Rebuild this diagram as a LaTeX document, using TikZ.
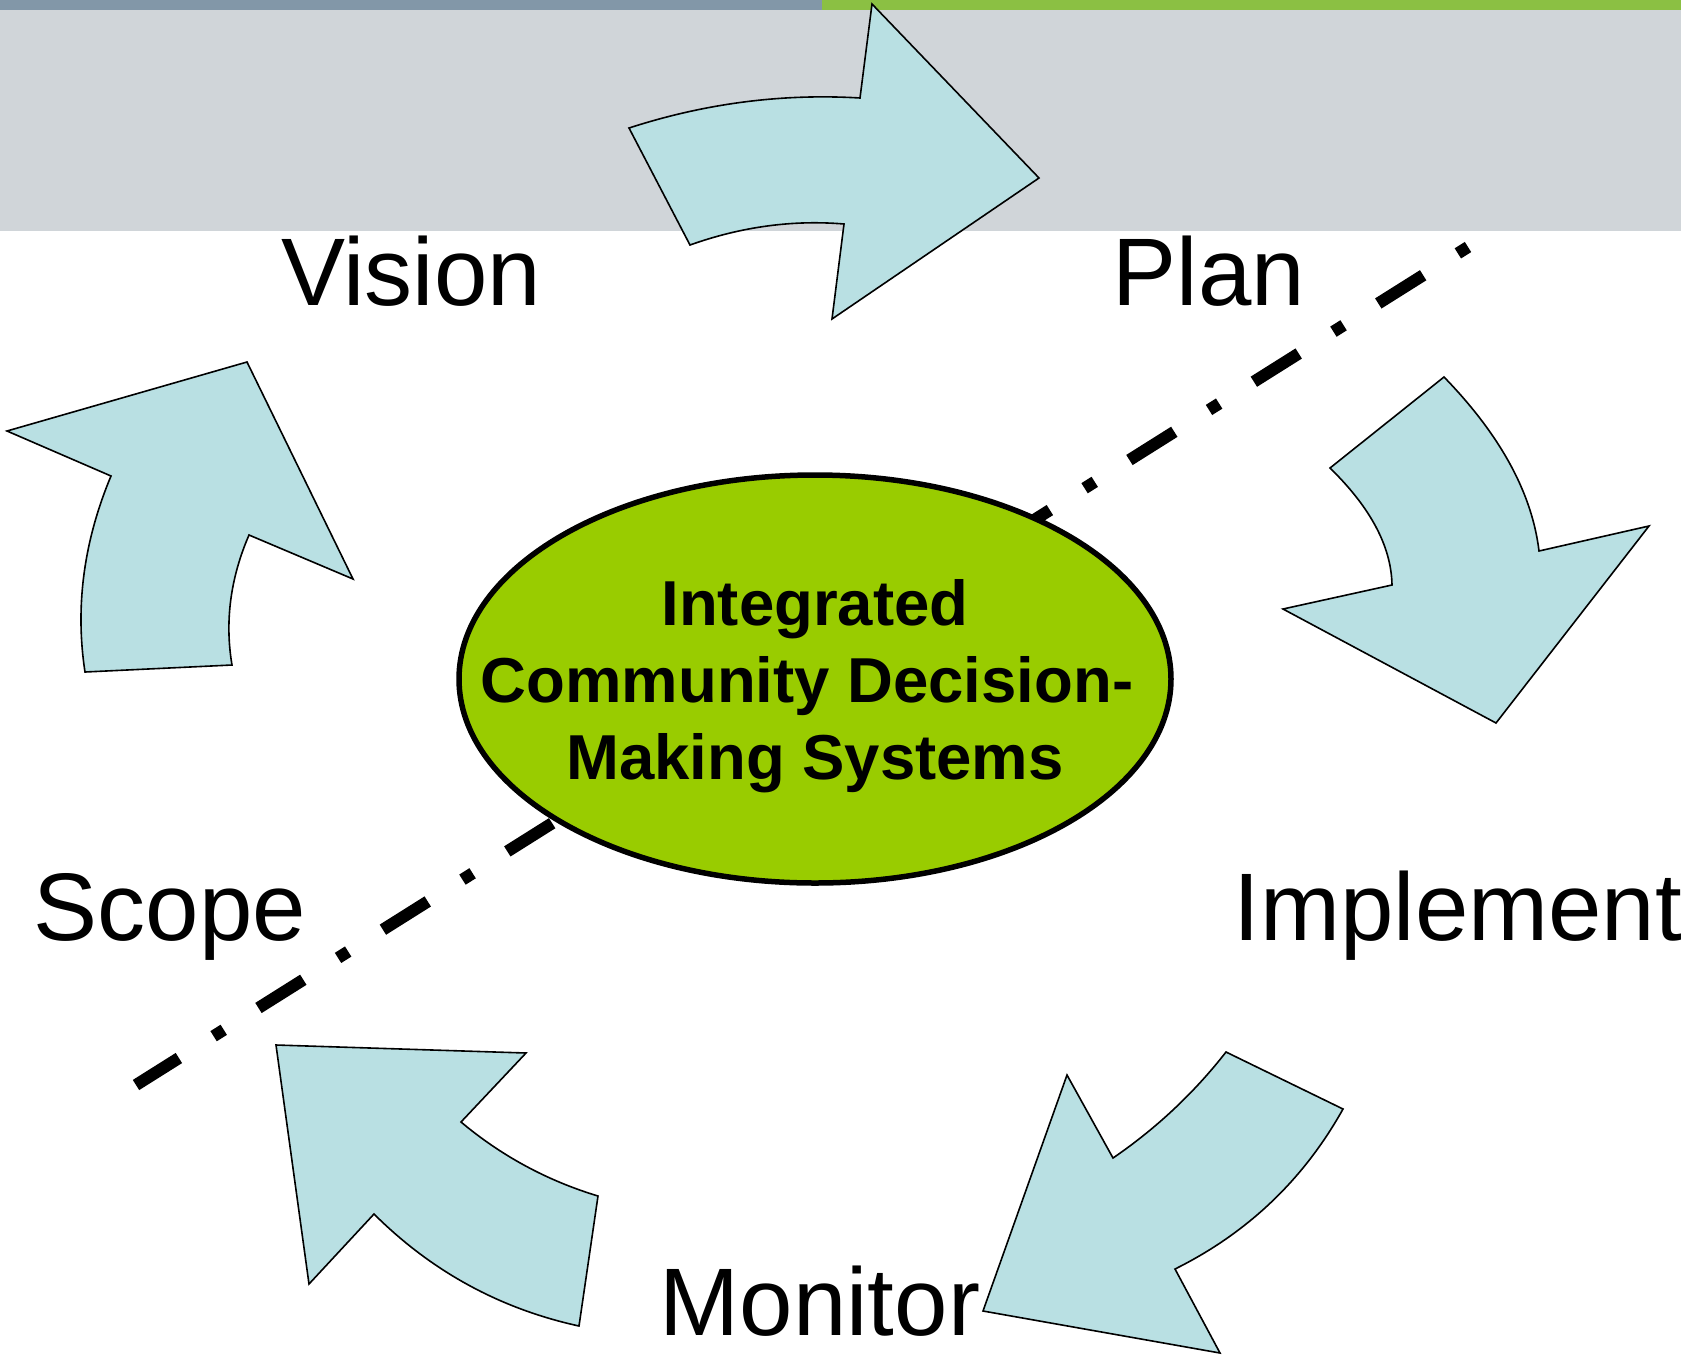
\documentclass[tikz,border=0pt]{standalone}
\usepackage{fontspec}
\setmainfont{Liberation Sans}
\usetikzlibrary{shapes.geometric}
\definecolor{barblue}{HTML}{8297A8}
\definecolor{bargreen}{HTML}{8BC043}
\definecolor{bandgray}{HTML}{D0D5D9}
\definecolor{arrowfill}{HTML}{B9E0E3}
\definecolor{hubgreen}{HTML}{99CC00}
\tikzset{
  cyclearrow/.style={fill=arrowfill, draw=black, line width=1.6pt, line join=miter},
  steplabel/.style={inner sep=0pt, anchor=base, font=\fontsize{96}{110}\selectfont},
  hubtext/.style={inner sep=0pt, anchor=base, font=\fontsize{63.5}{77}\selectfont\bfseries},
  divider/.style={line width=12pt, line cap=butt, dash pattern=on 12pt off 41pt on 53pt off 41pt}
}
\begin{document}
\begin{tikzpicture}[x=1pt,y=-1pt]
\useasboundingbox (0,0) rectangle (1681,1355);
% background bands
\fill[white] (0,0) rectangle (1681,1355);
\fill[bandgray] (0,10) rectangle (1681,230.5);
\fill[barblue] (0,0) rectangle (822,10);
\fill[bargreen] (822,0) rectangle (1681,10);
% dash-dot divider
\coordinate (dtop) at (1468,247);
\coordinate (dbot) at (136,1085);
\draw[divider] (dtop) -- (dbot);
% central hub
\node[ellipse, draw=black, fill=hubgreen, line width=5.5pt, inner sep=0pt,
      minimum width=712pt, minimum height=408pt] (hub) at (815,679) {};
\node[hubtext] (hub1) at (815,625) {Integrated};
\node[hubtext] (hub2) at (815,702) {Community Decision-\hspace*{16pt}};
\node[hubtext] (hub3) at (815,779) {Making Systems};
% top arrow (Vision -> Plan)
\draw[cyclearrow] (629,128) .. controls (705.3,103.3) and (782.3,93.3) .. (860,98)
  -- (872,4) -- (1039,178) -- (832,319) -- (844,224)
  .. controls (792.7,219.7) and (741.3,226.7) .. (690,245) -- cycle;
% right arrow (Plan -> Implement)
\draw[cyclearrow] (1444,377) .. controls (1500.3,435) and (1532,493) .. (1539,551)
  -- (1649,526) -- (1496,723) -- (1283,609) -- (1392,585)
  .. controls (1391.3,546.7) and (1370.7,507.7) .. (1330,468) -- cycle;
% bottom-right arrow (Implement -> Monitor)
\draw[cyclearrow] (1226,1052) -- (1343,1109)
  .. controls (1303.5,1179.7) and (1247.5,1233) .. (1175,1269)
  -- (1220,1353) -- (983,1311) -- (1067,1075) -- (1113,1158)
  .. controls (1156.1,1128.5) and (1193.8,1093.2) .. (1226,1052) -- cycle;
% bottom-left arrow (Monitor -> Scope)
\draw[cyclearrow] (579,1326) .. controls (499.9,1308.7) and (431.5,1271.3) .. (374,1214)
  -- (309,1284) -- (276,1045) -- (526,1053) -- (461,1122)
  .. controls (501.6,1156) and (547.3,1180.7) .. (598,1196) -- cycle;
% left arrow (Scope -> Vision)
\draw[cyclearrow] (85,672) .. controls (75,606.7) and (83.7,541.3) .. (111,476)
  -- (7,431) -- (247,362) -- (353,579) -- (249,535)
  .. controls (230.3,578.3) and (224.7,621.7) .. (232,665) -- cycle;
% step labels
\node[steplabel] (vision) at (411,305) {Vision};
\node[steplabel] (plan) at (1209,305) {Plan};
\node[steplabel] (scope) at (170,940) {Scope};
\node[steplabel] (implement) at (1458,940) {Implement};
\node[steplabel] (monitor) at (820,1335) {Monitor};
\end{tikzpicture}
\end{document}
